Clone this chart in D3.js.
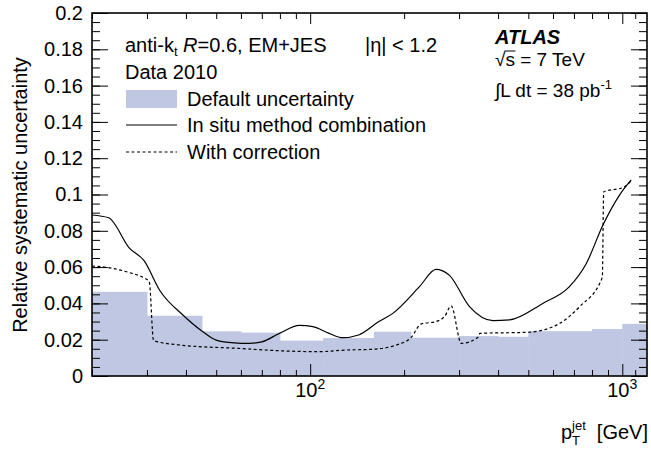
<!DOCTYPE html>
<html>
<head>
<meta charset="utf-8">
<script src="https://cdn.jsdelivr.net/npm/d3@7"></script>
<style>
body { margin: 0; background: #fff; }
svg text { font-family: "Liberation Sans", Arial, Helvetica, sans-serif; fill: #000; }
.axis path { display: none; }
.axis line { stroke: #000; stroke-width: 1; }
</style>
</head>
<body>
<div class="main"></div>
<script>
// chart frame
var margin = {top: 13, right: 4, bottom: 73, left: 92},
width = 651 - margin.left - margin.right,
height = 449 - margin.top - margin.bottom,
fs = 20;

// default uncertainty, binned in pT (bin edges + value per bin)
var binEdges = [20, 30, 45, 60, 80, 110, 160, 210, 300, 400, 500, 800, 1000, 1200];
var binValues = [0.0464, 0.0332, 0.0246, 0.0239, 0.0195, 0.0209, 0.0244, 0.0211, 0.022, 0.0216, 0.0247, 0.0259, 0.0287];

// in situ method combination (solid)
var insituPt = [20, 22.6, 26.4, 29.4, 32.9, 39.1, 45.3, 50, 57, 64, 70, 79.7, 92.4, 102, 115, 127, 143, 166, 184, 224, 253, 279, 324, 385, 435, 556, 677, 767, 867, 980, 1068];
var insituVal = [0.0887, 0.0872, 0.0703, 0.0634, 0.0474, 0.0336, 0.0244, 0.0198, 0.0183, 0.018, 0.0188, 0.0235, 0.0279, 0.0272, 0.0235, 0.0211, 0.0226, 0.03, 0.0345, 0.0492, 0.0588, 0.0556, 0.0382, 0.0305, 0.0309, 0.04, 0.0492, 0.062, 0.0832, 0.0997, 0.108];

// with correction (dashed)
var corrPt = [20, 23.3, 26.4, 29, 30.5, 31.5, 38, 59, 80, 107, 130, 158, 189, 210, 227, 253, 270, 283, 305, 345, 350, 500, 630, 730, 863, 872, 1010, 1068];
var corrVal = [0.0606, 0.0593, 0.0569, 0.0545, 0.052, 0.0195, 0.0171, 0.0152, 0.0139, 0.0134, 0.0143, 0.0147, 0.0171, 0.021, 0.0287, 0.03, 0.033, 0.0386, 0.018, 0.0213, 0.0235, 0.0241, 0.029, 0.0382, 0.0543, 0.1015, 0.104, 0.1076];

// ticks
var yMajor = [0, 0.02, 0.04, 0.06, 0.08, 0.1, 0.12, 0.14, 0.16, 0.18, 0.2];
var yLabels = ["0", "0.02", "0.04", "0.06", "0.08", "0.1", "0.12", "0.14", "0.16", "0.18", "0.2"];
var yMinor = d3.range(0, 41).map(function(i){ return i * 0.005; });
var xMajor = [100, 1000];
var xLabels = ["2", "3"];
var xMinor = [20, 30, 40, 50, 60, 70, 80, 90, 200, 300, 400, 500, 600, 700, 800, 900, 1100];

var svg = d3.select(".main")
.append("svg")
.attr("width", width + margin.left + margin.right)
.attr("height", height + margin.top + margin.bottom)
.append("g")
.attr("transform", "translate(" + margin.left + "," + margin.top + ")");

var x = d3.scaleLog().domain([20, 1200]).range([0, width]);
var y = d3.scaleLinear().domain([0, 0.2]).range([height, 0]);

//bars
var bins = binValues.map(function(v, i){ return {x0: binEdges[i], x1: binEdges[i+1], v: v}; });
svg.selectAll(".bar")
.data(bins)
.enter().append("rect")
.attr("class", "bar")
.attr("x", function(d){ return x(d.x0); })
.attr("width", function(d){ return x(d.x1) - x(d.x0) + 0.5; })
.attr("y", function(d){ return y(d.v); })
.attr("height", function(d){ return height - y(d.v); })
.style("fill", "#bfc7e3");

//curves
var line = d3.line()
.x(function(d){ return x(d[0]); })
.y(function(d){ return y(d[1]); })
.curve(d3.curveMonotoneX);

svg.append("path")
.attr("d", line(d3.zip(insituPt, insituVal)))
.style("fill", "none")
.style("stroke", "#000")
.style("stroke-width", 1.2);

svg.append("path")
.attr("d", line(d3.zip(corrPt, corrVal)))
.style("fill", "none")
.style("stroke", "#000")
.style("stroke-width", 1.2)
.style("stroke-dasharray", "3,2.5");

//axes, ticks pointing inward
function addAxis(ax, tr) {
  var g = svg.append("g").attr("class", "axis");
  if (tr) g.attr("transform", tr);
  g.call(ax);
  return g;
}
addAxis(d3.axisLeft(y).tickValues(yMinor).tickSizeInner(-8).tickSizeOuter(0).tickFormat(""));
addAxis(d3.axisLeft(y).tickValues(yMajor).tickSizeInner(-16).tickSizeOuter(0).tickPadding(9)
  .tickFormat(function(d, i){ return yLabels[i]; }))
  .selectAll("text").style("font-size", fs + "px");
addAxis(d3.axisRight(y).tickValues(yMinor).tickSizeInner(-8).tickSizeOuter(0).tickFormat(""), "translate(" + width + ",0)");
addAxis(d3.axisRight(y).tickValues(yMajor).tickSizeInner(-16).tickSizeOuter(0).tickFormat(""), "translate(" + width + ",0)");
addAxis(d3.axisBottom(x).tickValues(xMinor).tickSizeInner(-6).tickSizeOuter(0).tickFormat(""), "translate(0," + height + ")");
addAxis(d3.axisBottom(x).tickValues(xMajor).tickSizeInner(-12).tickSizeOuter(0).tickFormat(""), "translate(0," + height + ")");
addAxis(d3.axisTop(x).tickValues(xMinor).tickSizeInner(-6).tickSizeOuter(0).tickFormat(""));
addAxis(d3.axisTop(x).tickValues(xMajor).tickSizeInner(-11).tickSizeOuter(0).tickFormat(""));

//frame
svg.append("rect")
.attr("width", width)
.attr("height", height)
.style("fill", "none")
.style("stroke", "#000")
.style("stroke-width", 1.6);

//x tick labels 10^n
xMajor.forEach(function(v, i){
  var t = svg.append("text")
  .attr("x", x(v))
  .attr("y", height + 21)
  .style("text-anchor", "middle")
  .style("font-size", fs + "px");
  t.append("tspan").text("10");
  t.append("tspan").attr("dy", -8).style("font-size", "14px").text(xLabels[i]);
});

//x title
var xt = svg.append("text")
.attr("x", width + 1)
.attr("y", height + 63)
.style("text-anchor", "end")
.style("font-size", fs + "px");
xt.append("tspan").text("p");
xt.append("tspan").attr("dy", 6).style("font-size", "13px").text("T");
xt.append("tspan").attr("dx", -8).attr("dy", -15).style("font-size", "13px").text("jet");
xt.append("tspan").attr("dy", 9).text("\u00a0\u00a0[GeV]");

//y title
svg.append("text")
.attr("transform", "translate(" + (-65) + "," + (height / 2 + 0.5) + ") rotate(-90)")
.style("text-anchor", "middle")
.style("font-size", "20px")
.text("Relative systematic uncertainty");

//labels
var lab = svg.append("text").attr("x", 33).attr("y", 39).style("font-size", fs + "px");
lab.append("tspan").text("anti-k");
lab.append("tspan").attr("dy", 4).style("font-size", "13px").text("t");
lab.append("tspan").attr("dy", -4).text(" ");
lab.append("tspan").style("font-style", "italic").text("R");
lab.append("tspan").text("=0.6, EM+JES");

svg.append("text").attr("x", 273).attr("y", 39).style("font-size", fs + "px").text("|\u03b7| < 1.2");
svg.append("text").attr("x", 33).attr("y", 66).style("font-size", fs + "px").text("Data 2010");

svg.append("text").attr("x", 403).attr("y", 31)
.style("font-size", "20px").style("font-weight", "bold").style("font-style", "italic")
.text("ATLAS");
var rs = svg.append("text").attr("x", 403).attr("y", 53).style("font-size", "19px")
.text("\u221as = 7 TeV");
// bar over the s of the square root
var rn = rs.node(), w0 = rn.getSubStringLength(0, 1), w1 = rn.getSubStringLength(1, 1);
svg.append("line")
.attr("x1", 403 + w0 - 1).attr("x2", 403 + w0 + w1 + 0.5)
.attr("y1", 53 - 15).attr("y2", 53 - 15)
.style("stroke", "#000").style("stroke-width", 1);
var lum = svg.append("text").attr("x", 403).attr("y", 84).style("font-size", "19px");
lum.append("tspan").text("\u222bL dt = 38 pb");
lum.append("tspan").attr("dy", -8).style("font-size", "13px").text("-1");

//legend
var legend = svg.append("g").attr("transform", "translate(34,0)");
legend.append("rect").attr("x", 0).attr("y", 77).attr("width", 51).attr("height", 18).style("fill", "#bfc7e3");
legend.append("line").attr("x1", 0).attr("x2", 51).attr("y1", 112).attr("y2", 112)
.style("stroke", "#000").style("stroke-width", 1.2);
legend.append("line").attr("x1", 0).attr("x2", 51).attr("y1", 139).attr("y2", 139)
.style("stroke", "#000").style("stroke-width", 1.2).style("stroke-dasharray", "3,2.5");
legend.append("text").attr("x", 61).attr("y", 93).style("font-size", fs + "px").text("Default uncertainty");
legend.append("text").attr("x", 61).attr("y", 119).style("font-size", fs + "px").text("In situ method combination");
legend.append("text").attr("x", 61).attr("y", 146).style("font-size", fs + "px").text("With correction");
</script>
</body>
</html>
